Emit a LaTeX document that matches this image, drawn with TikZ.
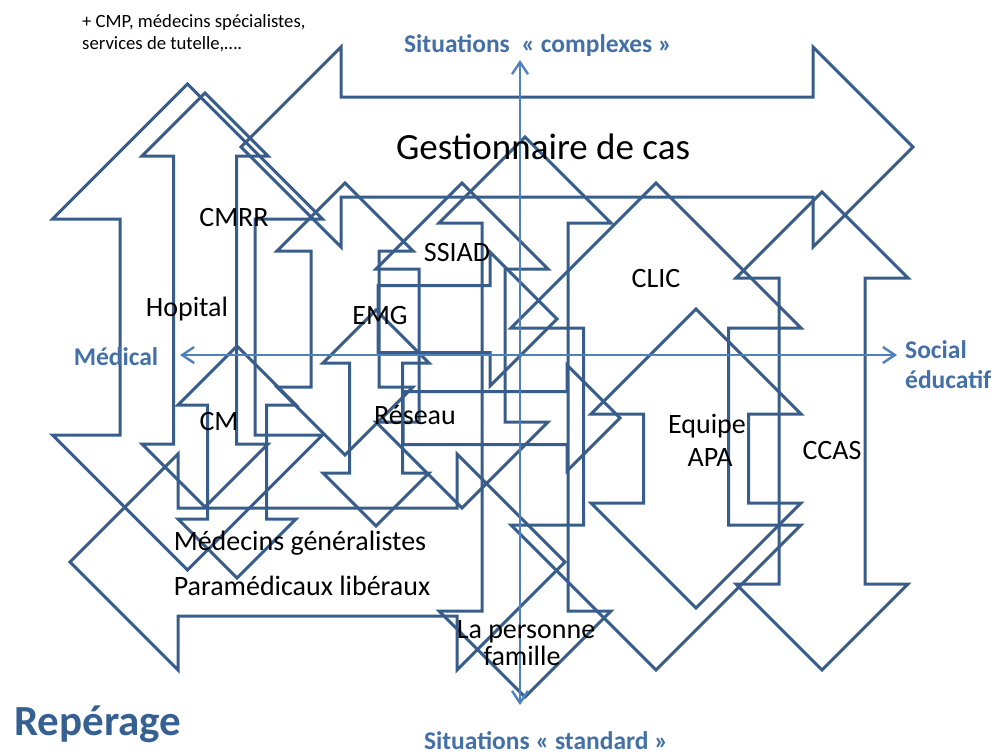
\documentclass[tikz,border=0pt]{standalone}
\usepackage{fontspec}
\setmainfont{Carlito}
\usepackage{tikz}
\usetikzlibrary{arrows.meta}
\definecolor{shapeblue}{HTML}{385D8A}
\definecolor{axisblue}{HTML}{4F81BD}
\definecolor{textblue}{HTML}{4470A8}
\definecolor{titleblue}{HTML}{376092}
\tikzset{
  outline/.style = {draw=shapeblue, line width=3pt},
  axis/.style = {draw=axisblue, line width=2.4pt, <->,
    >={Straight Barb[length=12pt,width=16pt]}},
  lbl/.style = {inner sep=0pt, anchor=base, font=\fontsize{28}{33}\selectfont},
  axislbl/.style = {lbl, text=textblue, font=\fontsize{25.5}{30}\selectfont\bfseries}
}
% centre x, top y, bottom y, half head width
\newcommand{\udarrow}[4]{\draw[outline] (#1,#2) -- ++(#4,#4) -- ++(-#4/2,0)
  -- (#1+#4/2,#3-#4) -- ++(#4/2,0) -- (#1,#3) -- ++(-#4,-#4) -- ++(#4/2,0)
  -- (#1-#4/2,#2+#4) -- ++(-#4/2,0) -- cycle;}
% left x, right x, centre y, half head height
\newcommand{\lrarrow}[4]{\draw[outline] (#1,#3) -- ++(#4,-#4) -- ++(0,#4/2)
  -- (#2-#4,#3-#4/2) -- ++(0,-#4/2) -- (#2,#3) -- ++(-#4,#4) -- ++(0,-#4/2)
  -- (#1+#4,#3+#4/2) -- ++(0,#4/2) -- cycle;}
\newcommand{\rarrow}[4]{\draw[outline] (#1,#3-#4/2) -- (#2-#4,#3-#4/2) -- ++(0,-#4/2)
  -- (#2,#3) -- ++(-#4,#4) -- ++(0,-#4/2) -- (#1,#3+#4/2) -- cycle;}

\begin{document}
\begin{tikzpicture}[x=1pt, y=-1pt]
\useasboundingbox (0,0) rectangle (993,755);

% the arrows
\lrarrow{241}{913}{147}{100}
\udarrow{187.5}{84}{570}{135}
\udarrow{205}{93}{507}{63}
\udarrow{237}{346}{578}{59}
\lrarrow{70}{565}{562}{108}
\udarrow{345}{183}{455}{68}
\udarrow{376}{310}{526}{53}
\udarrow{462}{183}{508}{86}
\udarrow{525}{137}{697}{86}
\rarrow{378}{557}{319}{67}
\rarrow{403}{620}{418}{53}
\udarrow{656}{183}{670}{145}
\udarrow{696}{309}{608}{105}
\udarrow{822}{192}{670}{86}

% axes
\coordinate (west) at (180,355);
\coordinate (east) at (897,355);
\coordinate (north) at (520,60);
\coordinate (south) at (520,705);
\draw[axis] (west) -- (east);
\draw[axis] (south) -- (north);

\node[lbl, anchor=base west, font=\fontsize{18.7}{22}\selectfont] (cmp) at (82,27) {+ CMP, médecins spécialistes,};
\node[lbl, anchor=base west, font=\fontsize{18.7}{22}\selectfont] (tutelle) at (82,49) {services de tutelle,….};
\node[axislbl] (complexes) at (538,52) {Situations~ « complexes »};
\node[axislbl] (standard) at (546,749) {Situations « standard »};
\node[axislbl] (medical) at (116,365) {Médical};
\node[axislbl, anchor=base west] (social) at (905,358) {Social};
\node[axislbl, anchor=base west] (educatif) at (905,388) {éducatif};
\node[lbl, text=titleblue, anchor=base west, font=\fontsize{43}{50}\selectfont\bfseries] (reperage) at (14,735) {Repérage};

\node[lbl, font=\fontsize{37}{44}\selectfont] (gestion) at (543,159) {Gestionnaire de cas};
\node[lbl] (cmrr) at (234,226) {CMRR};
\node[lbl] (ssiad) at (457,261) {SSIAD};
\node[lbl] (hopital) at (187,316) {Hopital};
\node[lbl] (emg) at (380,324) {EMG};
\node[lbl] (clic) at (656,287) {CLIC};
\node[lbl] (cm) at (219,430) {CM};
\node[lbl] (reseau) at (415,424) {Réseau};
\node[lbl] (equipe) at (707,433) {Equipe};
\node[lbl] (apa) at (710,466) {APA};
\node[lbl] (ccas) at (832,459) {CCAS};
\node[lbl] (medecins) at (300,550) {Médecins généralistes};
\node[lbl] (paramed) at (302,595) {Paramédicaux libéraux};
\node[lbl] (personne) at (526,638) {La personne};
\node[lbl] (famille) at (522,665) {famille};
\end{tikzpicture}
\end{document}
